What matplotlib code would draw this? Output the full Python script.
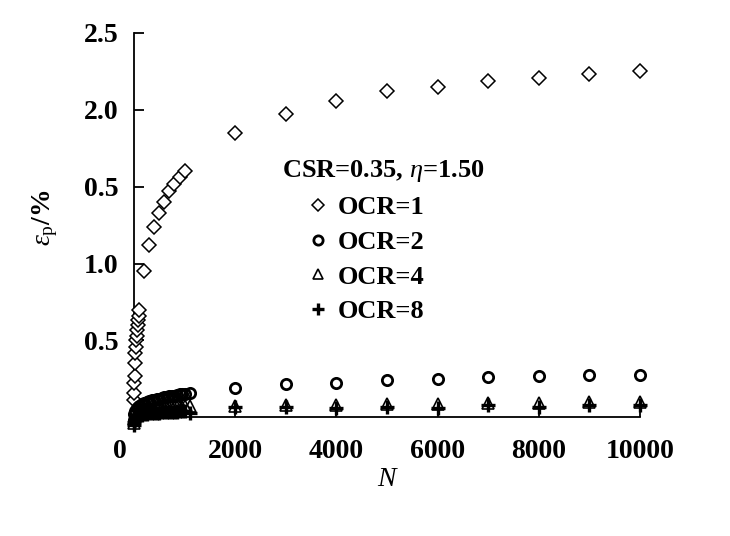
import matplotlib
matplotlib.use("Agg")
import matplotlib.pyplot as plt
from matplotlib.transforms import ScaledTranslation

plt.rcParams['font.family'] = ['Liberation Serif', 'Noto Sans CJK SC', 'DejaVu Sans']
plt.rcParams['mathtext.fontset'] = 'custom'
plt.rcParams['mathtext.rm'] = 'Liberation Serif'
plt.rcParams['mathtext.it'] = 'Liberation Serif:italic'
plt.rcParams['mathtext.bf'] = 'Liberation Serif:bold'

# ---------------- data ----------------
n_ocr1 = [1, 2, 5, 10, 15, 20, 30, 40, 50, 60, 70, 80, 90, 100,
          200, 300, 400, 500, 600, 700, 800, 900, 1000,
          2000, 3000, 4000, 5000, 6000, 7000, 8000, 9000, 10000]
eps_ocr1 = [0.11, 0.155, 0.22, 0.27, 0.35, 0.415, 0.455, 0.50, 0.53, 0.565, 0.60, 0.63, 0.66, 0.695,
            0.95, 1.12, 1.24, 1.33, 1.40, 1.47, 1.52, 1.565, 1.60,
            1.85, 1.97, 2.06, 2.12, 2.15, 2.19, 2.21, 2.23, 2.25]

n_early = [1, 5, 10, 50, 100, 150, 200, 250, 300, 350, 400, 450, 500, 550, 600, 650, 700, 750, 800, 850,
           900, 950, 1000, 1100]
n_late = [2000, 3000, 4000, 5000, 6000, 7000, 8000, 9000, 10000]

eps_ocr2 = [-0.02, 0.02, 0.04, 0.06, 0.075, 0.085, 0.095, 0.10, 0.105, 0.11, 0.115, 0.118, 0.12, 0.125,
            0.13, 0.132, 0.135, 0.138, 0.14, 0.144, 0.148, 0.15, 0.152, 0.157,
            0.19, 0.215, 0.225, 0.24, 0.25, 0.265, 0.268, 0.273, 0.277]
eps_ocr4 = [-0.04, -0.01, 0.01, 0.03, 0.04, 0.045, 0.05, 0.052, 0.055, 0.056, 0.058, 0.059, 0.06, 0.061,
            0.062, 0.063, 0.064, 0.065, 0.066, 0.067, 0.068, 0.069, 0.07, 0.072,
            0.075, 0.078, 0.082, 0.085, 0.085, 0.095, 0.09, 0.10, 0.10]
eps_ocr8 = [-0.05, -0.03, -0.015, 0.0, 0.01, 0.015, 0.02, 0.022, 0.025, 0.026, 0.028, 0.029, 0.03, 0.031,
            0.032, 0.033, 0.034, 0.035, 0.036, 0.037, 0.038, 0.039, 0.04, 0.028,
            0.065, 0.065, 0.058, 0.067, 0.06, 0.078, 0.067, 0.078, 0.078]
n_other = n_early + n_late

legend_title = "CSR=0.35, $\\eta$=1.50"
labels = ["OCR=1", "OCR=2", "OCR=4", "OCR=8"]
xticks = [0, 2000, 4000, 6000, 8000, 10000]
xtick_labels = ["0", "2000", "4000", "6000", "8000", "10000"]
yticks = [0.5, 1.0, 1.5, 2.0, 2.5]
ytick_labels = ["0.5", "1.0", "0.5", "2.0", "2.5"]

# ---------------- figure ----------------
fig = plt.figure(figsize=(7.30, 5.36), dpi=100)
ax = fig.add_axes([134/730, 1-428/536, (640-134)/730, (428-33)/536])

ax.plot(n_ocr1, eps_ocr1, linestyle='none', marker='D', ms=7.0, mfc='white', mec='black', mew=1.1,
        label=labels[0], clip_on=False, zorder=3)
ax.plot(n_other, eps_ocr2, linestyle='none', marker='o', ms=7.4, mfc='none', mec='black', mew=2.0,
        label=labels[1], clip_on=False, zorder=3)
ax.plot(n_other, eps_ocr4, linestyle='none', marker='^', ms=8.5, mfc='none', mec='black', mew=1.2,
        label=labels[2], clip_on=False, zorder=3)
ax.plot(n_other, eps_ocr8, linestyle='none', marker='+', ms=9.5, mec='black', mew=2.4,
        label=labels[3], clip_on=False, zorder=3)

ax.set_xlim(0, 10000)
ax.set_ylim(-0.07, 2.5)

ax.spines['top'].set_visible(False)
ax.spines['right'].set_visible(False)
ax.spines['bottom'].set_position(('data', 0))
ax.spines['left'].set_linewidth(1.3)
ax.spines['bottom'].set_linewidth(1.3)

ax.set_xticks(xticks)
ax.set_xticklabels(xtick_labels, fontsize=20, fontweight='bold')
ax.set_yticks(yticks)
ax.set_yticklabels(ytick_labels, fontsize=20, fontweight='bold')
ax.tick_params(axis='x', direction='in', length=5, width=1.3, pad=0)
ax.tick_params(axis='y', direction='in', length=7, width=1.3, pad=11)

# x tick labels placed below the axis line
for lab in ax.get_xticklabels():
    lab.set_transform(lab.get_transform() + ScaledTranslation(0, -22/100, fig.dpi_scale_trans))
ax.get_xticklabels()[0].set_transform(
    ax.get_xticklabels()[0].get_transform() + ScaledTranslation(-14/100, 0, fig.dpi_scale_trans))

fig.text(388/730, 1-479/536, "$N$", fontsize=20, ha='center', va='center')
fig.text(45/730, 1-218/536, "$\\varepsilon_{\\mathrm{p}}$/%", fontsize=20, fontweight='bold',
         rotation=90, ha='center', va='center')

fig.text(383/730, 1-171/536, legend_title, fontsize=19, fontweight='bold', ha='center', va='center')
leg = ax.legend(loc='upper left', bbox_to_anchor=(305/730, 1-196/536), bbox_transform=fig.transFigure,
                frameon=False, markerscale=0.9, handlelength=1.0, handletextpad=0.23,
                labelspacing=0.42, borderpad=0, borderaxespad=0, prop={'size': 19, 'weight': 'bold'})

fig.savefig("out.png", dpi=100)
